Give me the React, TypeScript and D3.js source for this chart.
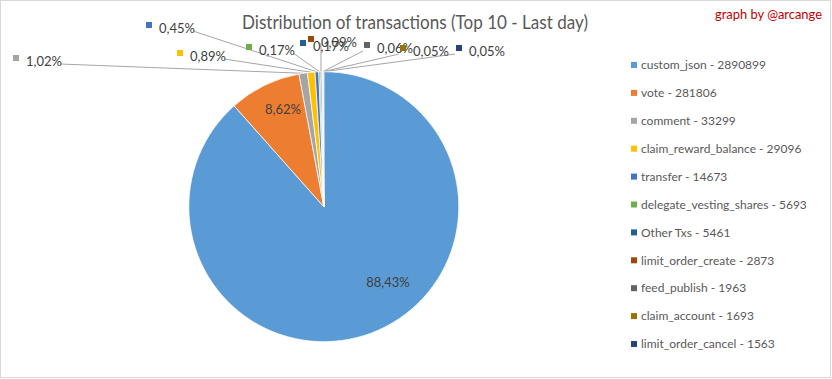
import React from "react";
import * as d3 from "d3";

const categories = [
  "custom_json",
  "vote",
  "comment",
  "claim_reward_balance",
  "transfer",
  "delegate_vesting_shares",
  "Other Txs",
  "limit_order_create",
  "feed_publish",
  "claim_account",
  "limit_order_cancel",
];
const values = [2890899, 281806, 33299, 29096, 14673, 5693, 5461, 2873, 1963, 1693, 1563];
const colors = [
  "#5B9BD5", "#ED7D31", "#A5A5A5", "#FFC000", "#4472C4", "#70AD47",
  "#255E91", "#9E480E", "#636363", "#997300", "#264478",
];

// label layout (annotation placement only): marker x (or text center for inside labels), text center y, leader side
const labelLayout: { x: number; y: number; side: string }[] = [
  { x: 388, y: 282, side: "in" },
  { x: 283, y: 109, side: "in" },
  { x: 13, y: 61, side: "r" },
  { x: 177, y: 56, side: "r" },
  { x: 146, y: 28, side: "r" },
  { x: 246, y: 50, side: "r" },
  { x: 300, y: 46, side: "t" },
  { x: 308, y: 42, side: "none" },
  { x: 364, y: 48, side: "l" },
  { x: 400, y: 51, side: "l" },
  { x: 456, y: 51, side: "l" },
];

const W = 832;
const H = 379;
const cx = 323.8;
const cy = 206.7;
const R = 135;
const FONT = "Lato, Carlito, Calibri, 'Liberation Sans', sans-serif";

export default function App() {
  const total = d3.sum(values);
  const pie = d3.pie<number>().sort(null).value((d) => d)(values);
  const arc = d3.arc<d3.PieArcDatum<number>>().innerRadius(0).outerRadius(R);
  const fmt = (v: number) => ((v / total) * 100).toFixed(2).replace(".", ",") + "%";
  const TW = 34;

  return (
    <svg
      width={W}
      height={H}
      style={{ position: "absolute", left: 0, top: 0, background: "#fff" }}
      fontFamily={FONT}
    >
      <rect x={0.5} y={0.5} width={W - 2} height={H - 2} fill="#fff" stroke="#d9d9d9" />
      <text x={415} y={29} textAnchor="middle" fontSize={19} fill="#595959" textLength={346} lengthAdjust="spacingAndGlyphs">
        Distribution of transactions (Top 10 - Last day)
      </text>
      <text x={715} y={19} fontSize={12.5} fill="#c00000" textLength={107} lengthAdjust="spacingAndGlyphs">
        graph by @arcange
      </text>

      {/* leader lines */}
      {pie.map((p, i) => {
        const L = labelLayout[i];
        if (L.side === "in" || L.side === "none") return null;
        const mid = (p.startAngle + p.endAngle) / 2;
        const ex = cx + R * Math.sin(mid);
        const ey = cy - R * Math.cos(mid);
        let sx = 0, sy = 0;
        if (L.side === "r") { sx = L.x + 13 + TW; sy = L.y + 3; }
        else if (L.side === "l") { sx = L.x - 1; sy = L.y + 3; }
        else { sx = ex; sy = L.y - 3; }
        return <line key={"l" + i} x1={sx} y1={sy} x2={ex} y2={ey} stroke="#a6a6a6" strokeWidth={1} />;
      })}

      <g transform={`translate(${cx},${cy})`}>
        {pie.map((p, i) => (
          <path key={i} d={arc(p) || ""} fill={colors[i]} stroke="#fff" strokeWidth={0.75} />
        ))}
      </g>

      {/* data labels */}
      {pie.map((p, i) => {
        const L = labelLayout[i];
        if (L.side === "in") {
          return (
            <text key={"t" + i} x={L.x} y={L.y} dy="0.35em" textAnchor="middle" fontSize={13} fill="#404040">
              {fmt(values[i])}
            </text>
          );
        }
        return (
          <g key={"t" + i}>
            <rect x={L.x} y={L.y - 6} width={6} height={6} fill={colors[i]} />
            <text x={L.x + 13} y={L.y} dy="0.35em" fontSize={13} fill="#404040">
              {fmt(values[i])}
            </text>
          </g>
        );
      })}

      {/* legend */}
      {categories.map((c, i) => (
        <g key={"g" + i}>
          <rect x={631} y={65 + i * 27.9 - 3} width={6} height={6} fill={colors[i]} />
          <text x={641} y={65 + i * 27.9} dy="0.35em" fontSize={12} fill="#595959">
            {c} - {values[i]}
          </text>
        </g>
      ))}
    </svg>
  );
}
